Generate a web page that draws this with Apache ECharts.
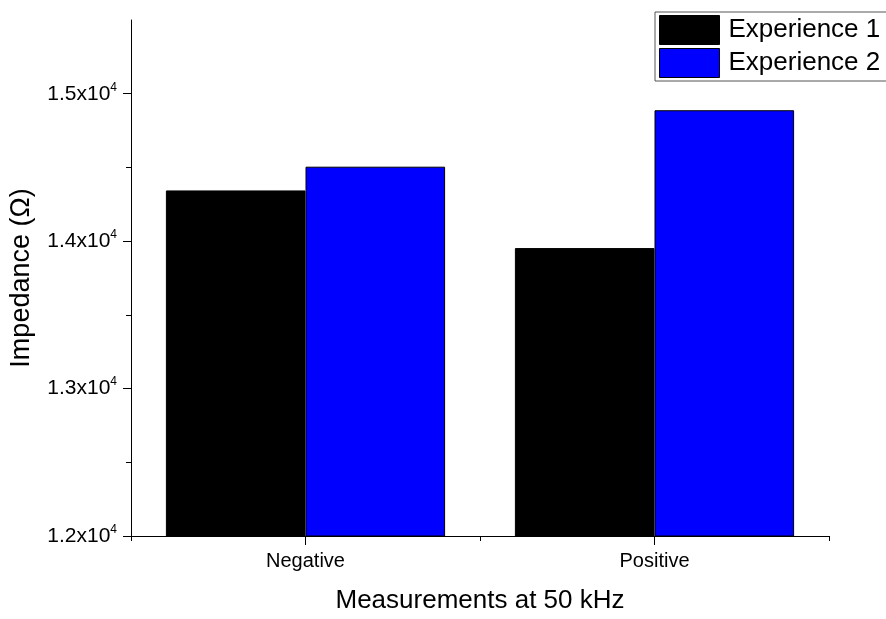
<!DOCTYPE html>
<html>
<head>
<meta charset="utf-8">
<script src="https://cdn.jsdelivr.net/npm/echarts@6/dist/echarts.min.js"></script>
<style>
  html, body { margin: 0; padding: 0; background: #ffffff; }
  #chart { width: 886px; height: 619px; }
</style>
</head>
<body>
<div id="chart"></div>
<script>
// Impedance measured at 50 kHz, two experiences per polarity
const categories = ['Negative', 'Positive'];
const experience1 = [14344, 13953];
const experience2 = [14505, 14888];
const seriesNames = ['Experience 1', 'Experience 2'];

// y axis ticks (major carry labels, minor are unlabeled)
const yMin = 12000;
const yMax = 15500;
const yMajorTicks = [12000, 13000, 14000, 15000];
const yMinorTicks = [12500, 13500, 14500];

const FONT = '"Liberation Sans", Arial, sans-serif';

// 1.5x10^4 style labels: mantissa times 10 with a raised exponent
function sciLabel(v) {
  const exp = Math.floor(Math.log10(v));
  const mant = (v / Math.pow(10, exp)).toFixed(1);
  return '{m|' + mant + 'x10}{e|' + exp + '}';
}

const chart = echarts.init(document.getElementById('chart'), null, { renderer: 'canvas' });

chart.setOption({
  animation: false,
  backgroundColor: '#ffffff',
  textStyle: { fontFamily: FONT, color: '#000' },
  grid: { left: 131, right: 57, top: 20, bottom: 78, containLabel: false },
  legend: {
    orient: 'vertical',
    left: 655,
    top: 12,
    data: seriesNames,
    icon: 'rect',
    itemWidth: 60,
    itemHeight: 29,
    itemGap: 3,
    padding: [3, 14, 3, 4],
    borderColor: '#555',
    borderWidth: 1,
    backgroundColor: '#fff',
    itemStyle: { borderColor: '#000', borderWidth: 1 },
    textStyle: { fontFamily: FONT, fontSize: 26, color: '#000', padding: [0, 0, 0, 4] }
  },
  xAxis: [
    {
      type: 'category',
      data: categories,
      position: 'bottom',
      name: 'Measurements at 50 kHz',
      nameLocation: 'middle',
      nameGap: 52,
      nameTextStyle: { fontFamily: FONT, fontSize: 26, color: '#000' },
      axisLine: { show: true, lineStyle: { color: '#000', width: 1 } },
      axisTick: { show: true, alignWithLabel: false, length: 5, lineStyle: { color: '#000', width: 1 } },
      axisLabel: { fontFamily: FONT, fontSize: 20, color: '#000', margin: 15 },
      splitLine: { show: false }
    },
    {
      // longer ticks under each category centre
      type: 'category',
      data: categories,
      position: 'bottom',
      axisLine: { show: false },
      axisTick: { show: true, alignWithLabel: true, length: 9, lineStyle: { color: '#000', width: 1 } },
      axisLabel: { show: false },
      splitLine: { show: false }
    }
  ],
  yAxis: [
    {
      type: 'value',
      min: yMin,
      max: yMax,
      position: 'left',
      name: 'Impedance (Ω)',
      nameLocation: 'middle',
      nameGap: 96,
      nameTextStyle: { fontFamily: FONT, fontSize: 27, color: '#000' },
      axisLine: { show: true, lineStyle: { color: '#000', width: 1 } },
      axisTick: { show: true, length: 8, customValues: yMajorTicks, lineStyle: { color: '#000', width: 1 } },
      axisLabel: {
        customValues: yMajorTicks,
        margin: 14,
        formatter: sciLabel,
        rich: {
          m: { fontFamily: FONT, fontSize: 21, color: '#000', lineHeight: 25 },
          e: { fontFamily: FONT, fontSize: 12, color: '#000', lineHeight: 12, verticalAlign: 'top' }
        }
      },
      splitLine: { show: false }
    },
    {
      // shorter minor ticks halfway between labelled values
      type: 'value',
      min: yMin,
      max: yMax,
      position: 'left',
      axisLine: { show: false },
      axisTick: { show: true, length: 5, customValues: yMinorTicks, lineStyle: { color: '#000', width: 1 } },
      axisLabel: { show: false },
      splitLine: { show: false }
    }
  ],
  series: [
    {
      name: seriesNames[0],
      type: 'bar',
      xAxisIndex: 0,
      yAxisIndex: 0,
      data: experience1,
      barGap: '0%',
      barCategoryGap: '20%',
      itemStyle: { color: '#000000', borderColor: '#000', borderWidth: 1 }
    },
    {
      name: seriesNames[1],
      type: 'bar',
      xAxisIndex: 0,
      yAxisIndex: 0,
      data: experience2,
      barGap: '0%',
      barCategoryGap: '20%',
      itemStyle: { color: '#0000ff', borderColor: '#000', borderWidth: 1 }
    }
  ]
});
</script>
</body>
</html>
